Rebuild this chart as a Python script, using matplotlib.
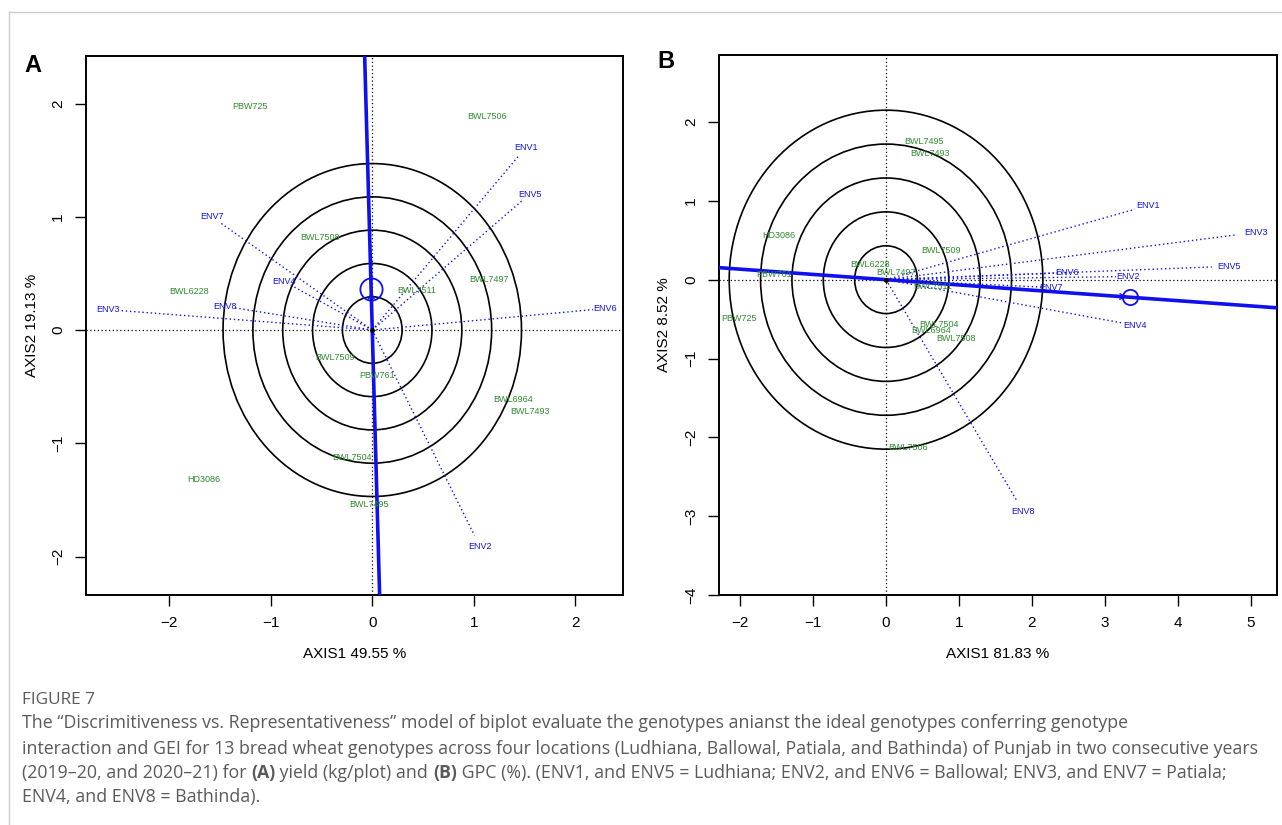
import matplotlib
matplotlib.use('Agg')
import matplotlib.pyplot as plt
import numpy as np
from matplotlib.patches import Circle
from matplotlib.lines import Line2D
from matplotlib.transforms import IdentityTransform

plt.rcParams['font.family'] = ['Liberation Sans', 'DejaVu Sans']

# ---------------- data ----------------
genotypes_A = ['PBW725', 'BWL7506', 'BWL7508', 'BWL7497', 'BWL6228', 'BWL7511',
               'BWL7509', 'PBW761', 'BWL6964', 'BWL7493', 'BWL7504', 'HD3086', 'BWL7495']
gen_x_A = [-1.20, 1.13, -0.51, 1.15, -1.80, 0.44, -0.37, 0.05, 1.39, 1.55, -0.20, -1.66, -0.03]
gen_y_A = [1.97, 1.89, 0.82, 0.45, 0.34, 0.35, -0.24, -0.40, -0.61, -0.72, -1.13, -1.32, -1.54]

envs = ['ENV1', 'ENV2', 'ENV3', 'ENV4', 'ENV5', 'ENV6', 'ENV7', 'ENV8']
env_x_A = [1.51, 1.06, -2.60, -0.87, 1.55, 2.29, -1.58, -1.45]
env_y_A = [1.61, -1.91, 0.18, 0.43, 1.20, 0.19, 1.00, 0.21]

genotypes_B = ['BWL7495', 'BWL7493', 'HD3086', 'BWL7509', 'BWL6228', 'BWL7497', 'PBW761',
               'BWL7511', 'PBW725', 'BWL7504', 'BWL6964', 'BWL7508', 'BWL7506']
gen_x_B = [0.52, 0.60, -1.47, 0.75, -0.22, 0.13, -1.53, 0.64, -2.01, 0.73, 0.62, 0.96, 0.30]
gen_y_B = [1.75, 1.60, 0.56, 0.37, 0.19, 0.09, 0.06, -0.09, -0.49, -0.57, -0.65, -0.74, -2.13]

env_x_B = [3.59, 3.32, 5.07, 3.42, 4.70, 2.48, 2.26, 1.88]
env_y_B = [0.94, 0.04, 0.60, -0.58, 0.17, 0.09, -0.10, -2.94]

circle_step_A = 0.294
circle_step_B = 0.43
xlabel_A, ylabel_A = 'AXIS1 49.55 %', 'AXIS2 19.13 %'
xlabel_B, ylabel_B = 'AXIS1 81.83 %', 'AXIS2 8.52 %'
xticks_A, yticks_A = [-2, -1, 0, 1, 2], [-2, -1, 0, 1, 2]
xticks_B, yticks_B = [-2, -1, 0, 1, 2, 3, 4, 5], [-4, -3, -2, -1, 0, 1, 2]

GREEN = '#2E8B2E'
BLUE = '#1010EE'

fig = plt.figure(figsize=(12.82, 8.25), dpi=100)
W, H = 1282, 825


def panel(rect, gnames, gx, gy, ex, ey, step, xlim, ylim, xt, yt, xl, yl, ms):
    ax = fig.add_axes(rect)
    ax.set_xlim(*xlim)
    ax.set_ylim(*ylim)
    ax.axhline(0, color='black', ls=(0, (1, 2)), lw=0.9, zorder=1)
    ax.axvline(0, color='black', ls=(0, (1, 2)), lw=0.9, zorder=1)
    for k in range(1, 6):
        ax.add_patch(Circle((0, 0), step * k, fill=False, ec='black', lw=1.2, zorder=2))
    ex = np.array(ex)
    ey = np.array(ey)
    for x, y, n in zip(ex, ey, envs):
        ax.plot([0, 0.95 * x], [0, 0.95 * y], color=BLUE, ls=(0, (1, 2)), lw=1.0, zorder=3)
        ax.text(x, y, n, color=BLUE, fontsize=6.5, ha='center', va='center', zorder=5)
    for x, y, n in zip(gx, gy, gnames):
        ax.text(x, y, n, color=GREEN, fontsize=6.5, ha='center', va='center', zorder=5)
    mx, my = ex.mean(), ey.mean()
    ax.axline((0, 0), (mx, my), color=BLUE, lw=2.6, zorder=4)
    ax.annotate('', xy=(mx, my), xytext=(0, 0),
                arrowprops=dict(arrowstyle='->', color=BLUE, lw=1.0, mutation_scale=10), zorder=4)
    ax.plot([mx], [my], marker='o', ms=ms, mfc='none', mec=BLUE, mew=1.3, zorder=4)
    ax.plot([0], [0], marker='o', ms=2.5, color='black', zorder=6)
    ax.set_xticks(xt)
    ax.set_yticks(yt)
    ax.tick_params(direction='out', length=8, width=1.0, labelsize=11, pad=7)
    for lab in ax.get_yticklabels():
        lab.set_rotation(90)
        lab.set_va('center')
    for s in ax.spines.values():
        s.set_linewidth(1.4)
    ax.set_xlabel(xl, fontsize=11)
    ax.set_ylabel(yl, fontsize=11)
    ax.xaxis.set_label_coords(0.5, -0.0965)
    return ax


axA = panel([86 / W, 1 - 595 / H, (623 - 86) / W, (595 - 56) / H],
            genotypes_A, gen_x_A, gen_y_A, env_x_A, env_y_A, circle_step_A,
            (-2.82, 2.47), (-2.34, 2.42), xticks_A, yticks_A, xlabel_A, ylabel_A, 16)
axA.yaxis.set_label_coords(-0.0875, 0.5)
axB = panel([719 / W, 1 - 595 / H, (1277 - 719) / W, (595 - 55) / H],
            genotypes_B, gen_x_B, gen_y_B, env_x_B, env_y_B, circle_step_B,
            (-2.29, 5.36), (-4.0, 2.85), xticks_B, yticks_B, xlabel_B, ylabel_B, 11)
axB.yaxis.set_label_coords(-0.086, 0.5)

# panel letters
fig.text(33 / W, 1 - 65 / H, 'A', fontsize=17, fontweight='bold', ha='center', va='center')
fig.text(666 / W, 1 - 62 / H, 'B', fontsize=17, fontweight='bold', ha='center', va='center')

# card border
fig.add_artist(Line2D([9 / W, 1], [1 - 12 / H, 1 - 12 / H], transform=fig.transFigure, color='#cccccc', lw=1))
fig.add_artist(Line2D([9 / W, 9 / W], [0, 1 - 12 / H], transform=fig.transFigure, color='#cccccc', lw=1))

# caption
CAP = '#5a5a5a'
CAPFONT = ['Open Sans', 'DejaVu Sans']
CAPSIZE = 12.8
fig.text(22 / W, 1 - 700 / H, 'FIGURE 7', fontsize=12.4, color=CAP, family=CAPFONT,
         ha='left', va='center')

cap_lines = [
    [('The \u201cDiscrimitiveness vs. Representativeness\u201d model of biplot evaluate the genotypes anianst the ideal genotypes conferring genotype', 'normal')],
    [('interaction and GEI for 13 bread wheat genotypes across four locations (Ludhiana, Ballowal, Patiala, and Bathinda) of Punjab in two consecutive years', 'normal')],
    [('(2019\u201320, and 2020\u201321) for ', 'normal'), ('(A)', 'bold'), (' yield (kg/plot) and ', 'normal'),
     ('(B)', 'bold'), (' GPC (%). (ENV1, and ENV5 = Ludhiana; ENV2, and ENV6 = Ballowal; ENV3, and ENV7 = Patiala;', 'normal')],
    [('ENV4, and ENV8 = Bathinda).', 'normal')],
]
cap_y = [723, 749, 773, 797]
renderer = fig.canvas.get_renderer()
for parts, yy in zip(cap_lines, cap_y):
    x = 22.0
    for s, w in parts:
        t = fig.text(x, H - yy, s, fontsize=CAPSIZE, color=CAP, family=CAPFONT, fontweight=w,
                     ha='left', va='center', transform=IdentityTransform())
        x += t.get_window_extent(renderer).width

fig.savefig('out.png', dpi=100)
